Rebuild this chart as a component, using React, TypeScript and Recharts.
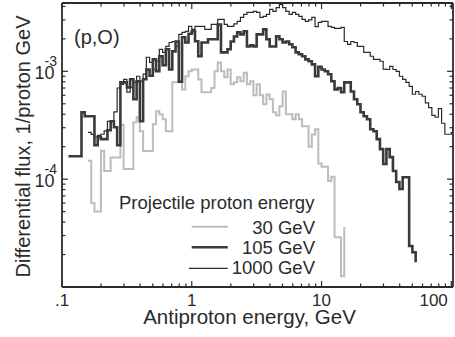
import React from 'react';
import { LineChart, Line, XAxis, YAxis } from 'recharts';

// Logarithmic energy bin edges (GeV), 40 bins per decade
const binEdges = [
  0.1, 0.1059, 0.1122, 0.1189, 0.1259, 0.1334, 0.1413, 0.1496, 0.1585, 0.1679,
  0.1778, 0.1884, 0.1995, 0.2113, 0.2239, 0.2371, 0.2512, 0.2661, 0.2818, 0.2985,
  0.3162, 0.335, 0.3548, 0.3758, 0.3981, 0.4217, 0.4467, 0.4732, 0.5012, 0.5309,
  0.5623, 0.5957, 0.631, 0.6683, 0.7079, 0.7499, 0.7943, 0.8414, 0.8913, 0.9441,
  1, 1.059, 1.122, 1.189, 1.259, 1.334, 1.413, 1.496, 1.585, 1.679,
  1.778, 1.884, 1.995, 2.113, 2.239, 2.371, 2.512, 2.661, 2.818, 2.985,
  3.162, 3.35, 3.548, 3.758, 3.981, 4.217, 4.467, 4.732, 5.012, 5.309,
  5.623, 5.957, 6.31, 6.683, 7.079, 7.499, 7.943, 8.414, 8.913, 9.441,
  10, 10.59, 11.22, 11.89, 12.59, 13.34, 14.13, 14.96, 15.85, 16.79,
  17.78, 18.84, 19.95, 21.13, 22.39, 23.71, 25.12, 26.61, 28.18, 29.85,
  31.62, 33.5, 35.48, 37.58, 39.81, 42.17, 44.67, 47.32, 50.12, 53.09,
  56.23, 59.57, 63.1, 66.83, 70.79, 74.99, 79.43, 84.14, 89.13, 94.41,
  100, 105.9,
];

// Flux values in units of 1e-4 per proton per GeV, one per bin
const start30 = 8;
const flux30 = [
  1.48, 0.6, 0.5, 0.5, 1.83, 1.19, 1.19, 1.59, 1.59, 1.59,
  3.2, 1.24, 1.24, 1.24, 3.37, 3.75, 2.78, 1.82, 1.82, 1.82,
  3.23, 4.27, 4.0, 3.59, 2.78, 2.78, 7.9, 7.9, 8.0, 6.8,
  9.0, 10.0, 10.4, 10.4, 8.4, 6.4, 6.4, 6.4, 7.0, 10.0,
  12.1, 10.0, 8.8, 10.4, 7.6, 7.9, 8.8, 8.1, 9.7, 7.6,
  8.1, 6.0, 7.6, 6.0, 4.95, 6.1, 5.5, 4.17, 3.9, 4.74,
  6.5, 4.0, 4.0, 3.6, 4.0, 3.59, 3.1, 3.1, 2.0, 2.6,
  2.9, 1.4, 1.3, 1.3, 0.96, 1.05, 0.29, 0.29, 0.126,
];
const end30 = 0.36;

const start105 = 2;
const flux105 = [
  1.63, 1.63, 1.63, 1.63, 4.17, 3.83, 3.83, 3.83, 2.06, 2.45,
  2.35, 2.35, 2.84, 3.44, 3.03, 2.06, 7.9, 7.9, 7.1, 8.43,
  5.51, 8.07, 3.44, 8.43, 10.4, 9.1, 12.9, 10.0, 13.8, 11.4,
  16.0, 10.4, 15.3, 18.9, 8.0, 20.7, 18.5, 22.3, 23.5, 19,
  13.8, 18.5, 18.5, 19.8, 19.8, 19.8, 27.2, 15.0, 15.0, 16.0,
  18.9, 21, 23.0, 22, 23.5, 17.0, 17.4, 17.0, 22, 22,
  24.5, 19.8, 17.0, 17.0, 21.1, 19.8, 18.5, 18.9, 17.8, 16.7,
  15.0, 14.4, 13.8, 12.9, 12.4, 11.6, 9.0, 11.0, 10.4, 10.0,
  9.4, 8.1, 6.8, 7.0, 6.4, 7.9, 7.9, 6.5, 5.5, 4.95,
  4.17, 3.83, 3.59, 2.9, 2.78, 2.35, 1.9, 1.38, 1.9, 1.6,
  1.19, 0.94, 0.81, 1.04, 1.04, 0.24, 0.21,
];
const end105 = 0.17;

const start1000 = 8;
const flux1000 = [
  2.72, 2.6, 2.5, 2.55, 2.61, 2.8, 3.44, 3.44, 4.2, 7.0,
  7.58, 8.43, 6.4, 7.1, 7.9, 9.0, 8.1, 9.4, 13.5, 12.1,
  10.4, 12.4, 16.0, 15.0, 17.0, 18.5, 18.9, 17.0, 22.0, 23.0,
  23.5, 26.1, 24.5, 26.1, 26.1, 26.1, 24.5, 24.5, 27.2, 27.2,
  30.3, 30.3, 27.2, 26.1, 26.1, 27.5, 29.0, 31.6, 33.7, 35.2,
  35.2, 36, 35.2, 31.6, 32.3, 33.7, 37.5, 36.0, 39, 41.7,
  39.0, 36.0, 33.7, 35.2, 33.7, 32.3, 30.3, 29.0, 30, 31.6,
  26, 28.4, 29.0, 29.0, 26.1, 25.5, 25, 25, 25.5, 18.9,
  17.8, 18.9, 18.5, 17.0, 17.0, 15.0, 15.0, 13.8, 12.9, 12.9,
  12.4, 10.5, 10.4, 11.1, 10.4, 10.0, 9.0, 8.43, 7.9, 7.26,
  6.13, 6.5, 6.13, 5.87, 5.1, 4.6, 3.9, 3.75, 4.5, 3.3,
  2.61, 2.61, 2.7,
];
const end1000 = 2.7;

const xTicks = [
  0.1, 0.2, 0.3, 0.4, 0.5, 0.6, 0.7, 0.8, 0.9,
  1, 2, 3, 4, 5, 6, 7, 8, 9,
  10, 20, 30, 40, 50, 60, 70, 80, 90, 100,
];
const xTickLabels: Record<string, string> = { '0.1': '.1', '1': '1', '10': '10', '100': '100' };

const yTicks = [
  2e-5, 3e-5, 4e-5, 5e-5, 6e-5, 7e-5, 8e-5, 9e-5,
  1e-4, 2e-4, 3e-4, 4e-4, 5e-4, 6e-4, 7e-4, 8e-4, 9e-4,
  1e-3, 2e-3, 3e-3, 4e-3,
];
const yTickExponents: Record<string, string> = { '0.001': '-3', '0.0001': '-4' };

const UNIT = 1e-4;

function buildSeries(start: number, flux: number[], endVal: number) {
  const pts = flux.map((v, i) => ({ e: binEdges[start + i], f: v * UNIT }));
  pts.push({ e: binEdges[start + flux.length], f: endVal * UNIT });
  return pts;
}

const data30 = buildSeries(start30, flux30, end30);
const data105 = buildSeries(start105, flux105, end105);
const data1000 = buildSeries(start1000, flux1000, end1000);

const INK = '#2b2b2b';
const GRAY = '#bcbcbc';
const FONT = '"Liberation Sans", Arial, Helvetica, sans-serif';

const isMajor = (v: number) => {
  const l = Math.log10(v);
  return Math.abs(l - Math.round(l)) < 1e-9;
};

const XTickBottom = (p: any) => {
  const { x, y, payload } = p;
  const v = payload.value;
  const major = isMajor(v);
  const len = major ? 6 : 3.5;
  const label = xTickLabels[String(v)];
  const last = v === 100;
  return (
    <g>
      <line x1={x} y1={y} x2={x} y2={y - len} stroke={INK} strokeWidth={1.2} />
      {label ? (
        <text
          x={last ? x - 3.5 : x}
          y={y + 18.5}
          textAnchor={last ? 'end' : 'middle'}
          fontFamily={FONT}
          fontSize={17}
          fill={INK}
        >
          {label}
        </text>
      ) : null}
    </g>
  );
};

const XTickTop = (p: any) => {
  const { x, y, payload } = p;
  const len = isMajor(payload.value) ? 6 : 3.5;
  return <line x1={x} y1={y} x2={x} y2={y + len} stroke={INK} strokeWidth={1.2} />;
};

const YTickLeft = (p: any) => {
  const { x, y, payload } = p;
  const v = payload.value;
  const len = isMajor(v) ? 6 : 3.5;
  const exp = yTickExponents[String(v)];
  return (
    <g>
      <line x1={x} y1={y} x2={x + len} y2={y} stroke={INK} strokeWidth={1.2} />
      {exp ? (
        <text x={x - 27.5} y={y + 8} fontFamily={FONT} fill={INK} fontSize={18}>
          10
          <tspan dx={-10} dy={-13} fontSize={14}>{exp}</tspan>
        </text>
      ) : null}
    </g>
  );
};

const YTickRight = (p: any) => {
  const { x, y, payload } = p;
  const len = isMajor(payload.value) ? 6 : 3.5;
  return <line x1={x} y1={y} x2={x - len} y2={y} stroke={INK} strokeWidth={1.2} />;
};

const X_DOMAIN: [number, number] = [0.1, 103];
const Y_DOMAIN: [number, number] = [1e-5, 4.3e-3];
const axisLine = { stroke: INK, strokeWidth: 1.8 };

export default function App() {
  return (
    <div style={{ position: 'absolute', left: 0, top: 0, width: 455, height: 337, background: '#fff' }}>
      <LineChart width={455} height={337} margin={{ top: 0, right: 0, bottom: 0, left: 0 }}>
        <XAxis
          xAxisId={0}
          dataKey="e"
          type="number"
          scale="log"
          domain={X_DOMAIN}
          allowDataOverflow
          ticks={xTicks}
          interval={0}
          height={50}
          tickSize={0}
          tickMargin={0}
          tickLine={false}
          axisLine={axisLine}
          tick={(props: any) => <XTickBottom {...props} />}
        />
        <XAxis
          xAxisId="top"
          orientation="top"
          dataKey="e"
          type="number"
          scale="log"
          domain={X_DOMAIN}
          allowDataOverflow
          ticks={xTicks}
          interval={0}
          height={3}
          tickSize={0}
          tickMargin={0}
          tickLine={false}
          axisLine={axisLine}
          tick={(props: any) => <XTickTop {...props} />}
        />
        <YAxis
          yAxisId={0}
          type="number"
          scale="log"
          domain={Y_DOMAIN}
          allowDataOverflow
          ticks={yTicks}
          interval={0}
          width={62}
          tickSize={0}
          tickMargin={0}
          tickLine={false}
          axisLine={axisLine}
          tick={(props: any) => <YTickLeft {...props} />}
        />
        <YAxis
          yAxisId="right"
          orientation="right"
          type="number"
          scale="log"
          domain={Y_DOMAIN}
          allowDataOverflow
          ticks={yTicks}
          interval={0}
          width={2}
          tickSize={0}
          tickMargin={0}
          tickLine={false}
          axisLine={axisLine}
          tick={(props: any) => <YTickRight {...props} />}
        />
        <Line
          data={data30}
          dataKey="f"
          type="stepAfter"
          stroke={GRAY}
          strokeWidth={2}
          dot={false}
          activeDot={false}
          isAnimationActive={false}
        />
        <Line
          data={data1000}
          dataKey="f"
          type="stepAfter"
          stroke={INK}
          strokeWidth={1.2}
          dot={false}
          activeDot={false}
          isAnimationActive={false}
        />
        <Line
          data={data105}
          dataKey="f"
          type="stepAfter"
          stroke="#3a3a3a"
          strokeWidth={2.6}
          dot={false}
          activeDot={false}
          isAnimationActive={false}
        />
      </LineChart>
      <svg
        width={455}
        height={337}
        style={{ position: 'absolute', left: 0, top: 0, pointerEvents: 'none' }}
        fontFamily={FONT}
      >
        <text x={74} y={44} fontSize={20} fill={INK}>(p,O)</text>
        <text
          x={29.5}
          y={146.5}
          fontSize={20}
          fill={INK}
          textAnchor="middle"
          transform="rotate(-90 29.5 146.5)"
        >
          Differential flux, 1/proton GeV
        </text>
        <text x={249.5} y={323.5} fontSize={20.5} fill={INK} textAnchor="middle">
          Antiproton energy, GeV
        </text>
        <text x={119} y={208.5} fontSize={18.5} fill={INK}>Projectile proton energy</text>
        <line x1={191.7} y1={226.7} x2={227.7} y2={226.7} stroke={GRAY} strokeWidth={2} />
        <text x={315} y={233.5} fontSize={18.5} fill={INK} textAnchor="end">30 GeV</text>
        <line x1={191.7} y1={247.3} x2={227.7} y2={247.3} stroke="#3a3a3a" strokeWidth={2.6} />
        <text x={315} y={254} fontSize={18.5} fill={INK} textAnchor="end">105 GeV</text>
        <line x1={189} y1={268.3} x2={227.7} y2={268.3} stroke={INK} strokeWidth={1.2} />
        <text x={315} y={274} fontSize={18.5} fill={INK} textAnchor="end">1000 GeV</text>
      </svg>
    </div>
  );
}
